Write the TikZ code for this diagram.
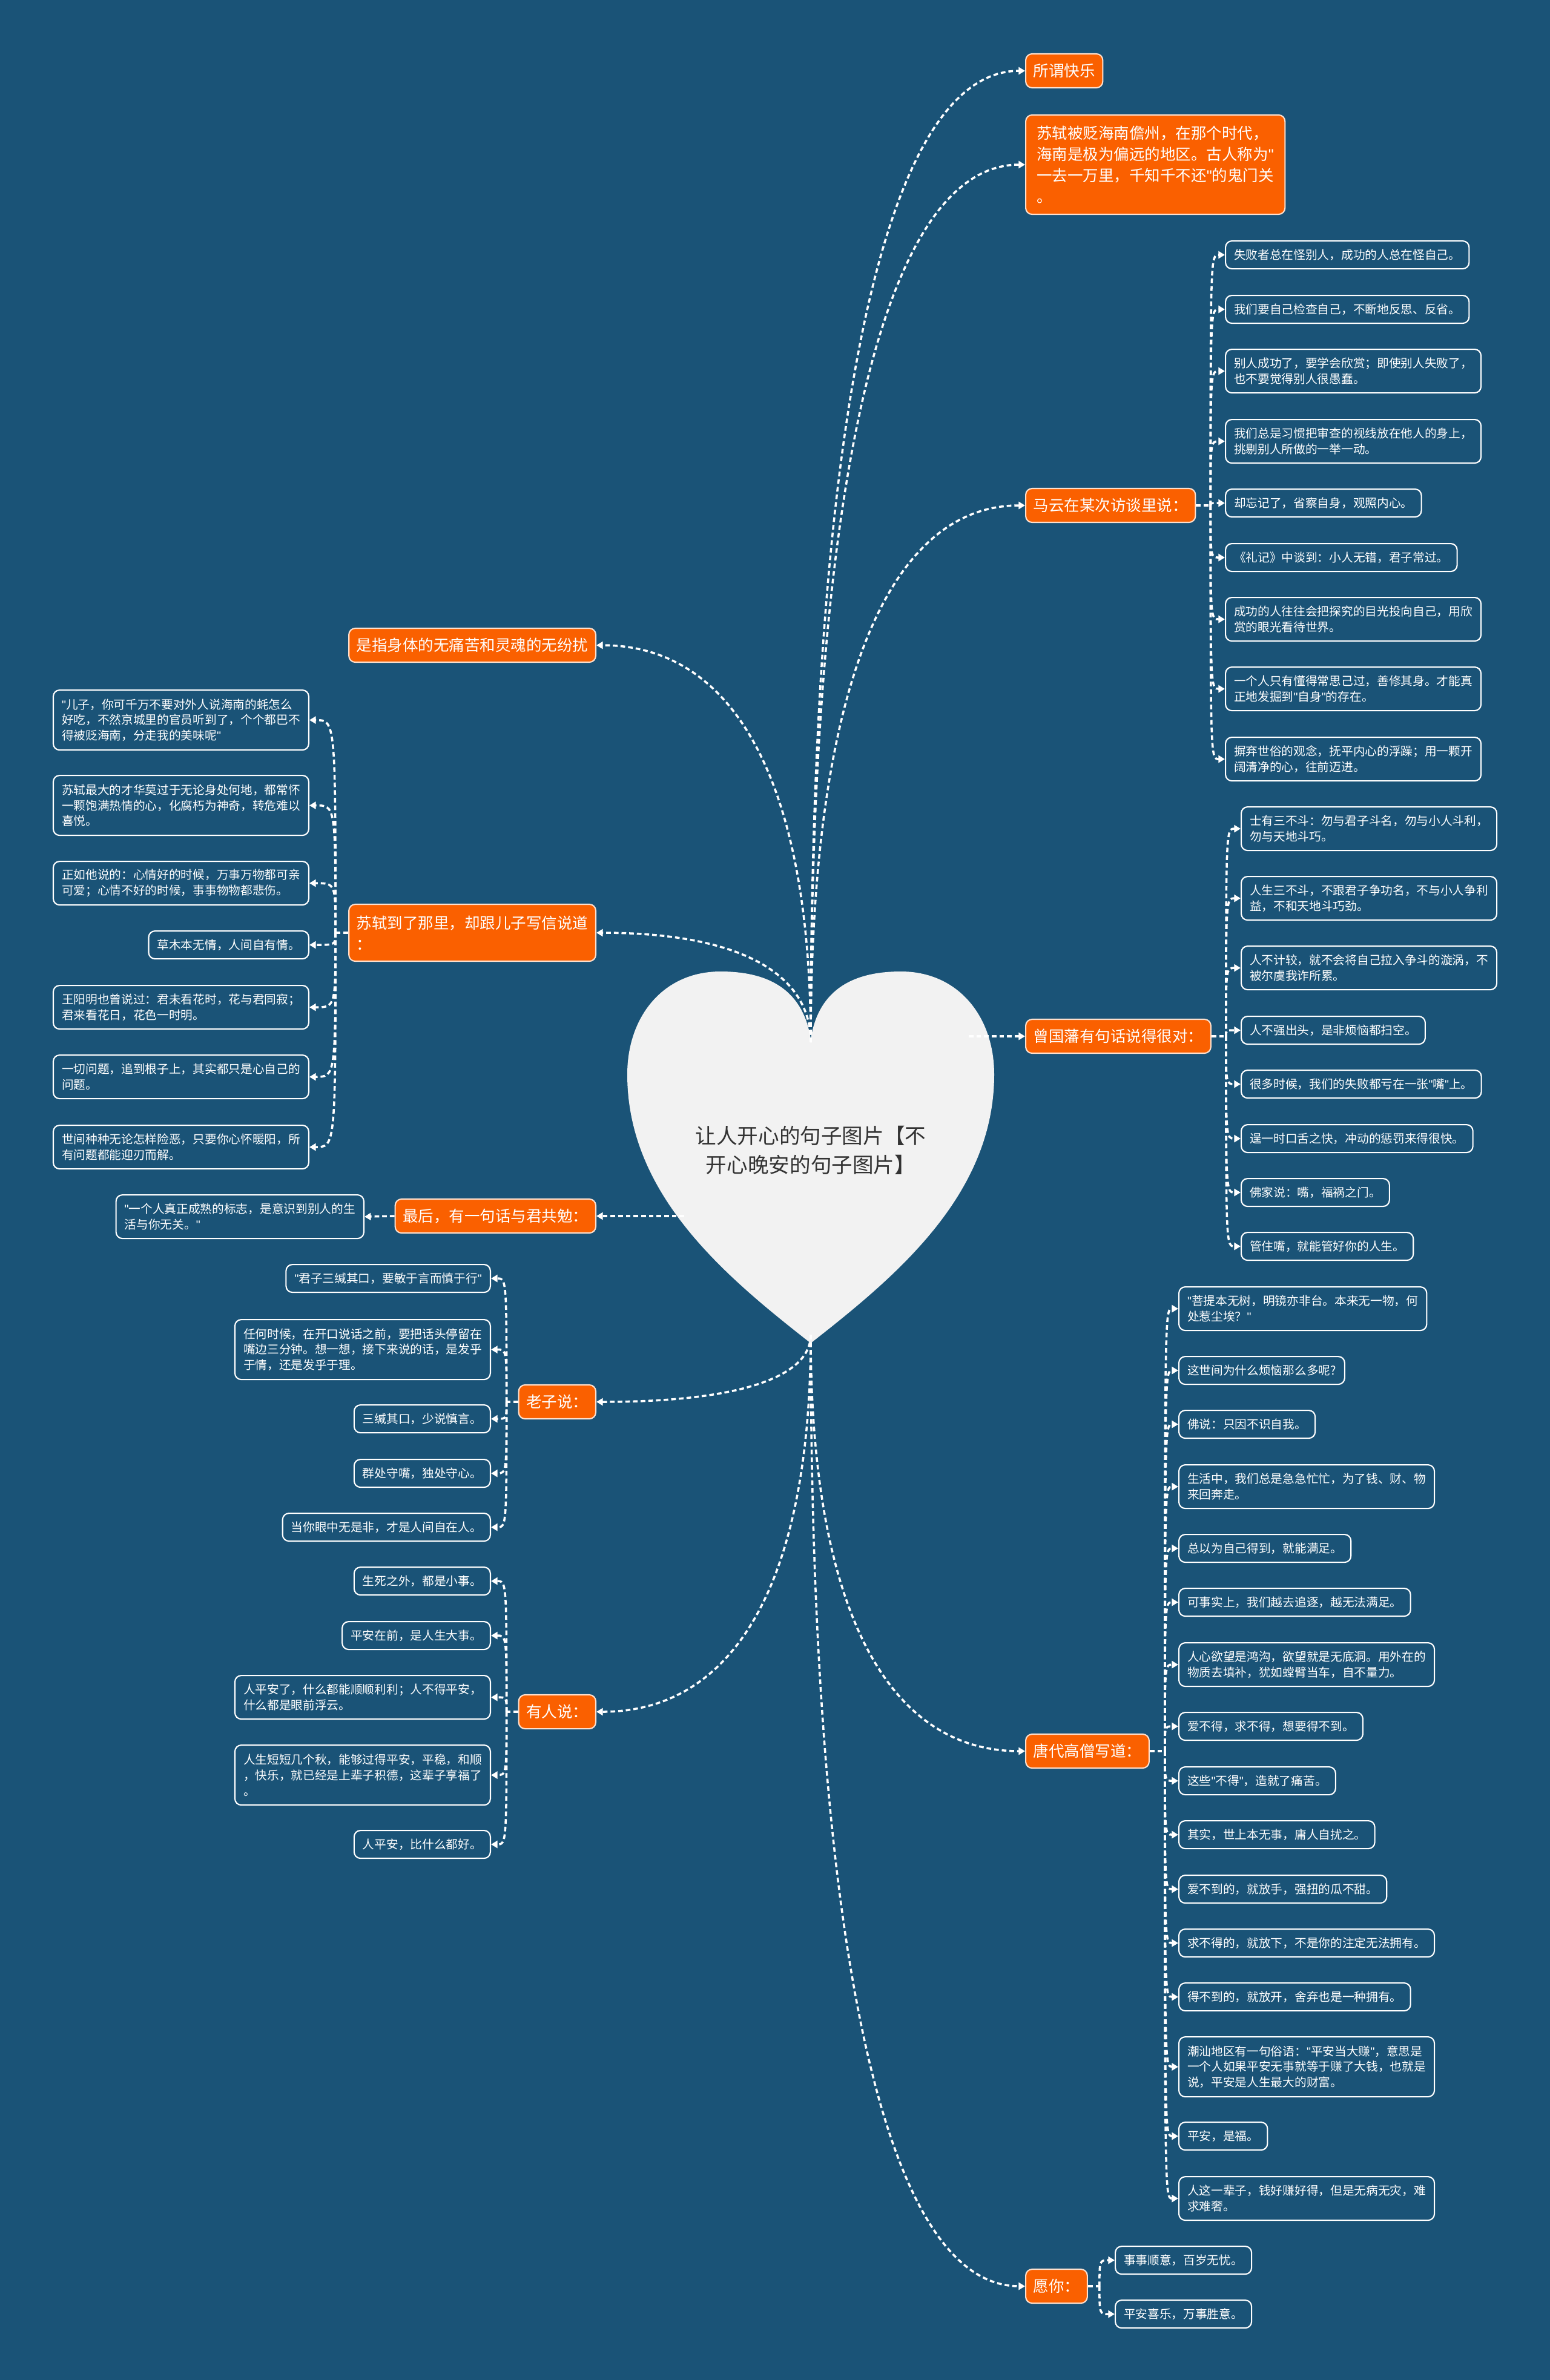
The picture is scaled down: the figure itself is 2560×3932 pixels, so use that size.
\documentclass[tikz,border=0pt]{standalone}
\usepackage{fontspec}
\setmainfont{Noto Sans CJK SC}
\newfontfamily\quotefont{Liberation Sans}
\usetikzlibrary{arrows.meta}
\definecolor{mapbg}{RGB}{26,83,119}
\definecolor{maporange}{RGB}{250,96,0}
\definecolor{heartgray}{RGB}{242,242,242}
\definecolor{titlegray}{RGB}{51,51,51}
\newcommand\leaffont{\fontsize{5.6pt}{7.3pt}\selectfont}
\newcommand\branchfont{\fontsize{7.25pt}{9.9pt}\selectfont}
\newcommand\heartfont{\fontsize{9.85pt}{13.6pt}\selectfont}
\newcommand\dq{{\quotefont"}}

\begin{document}
\begin{tikzpicture}[x=0.01cm, y=-0.01cm, >={Triangle[length=3pt,width=3.4pt]},
  branch/.style={draw=white!80!maporange, line width=0.6pt, rounded corners=3pt, fill=maporange,
    text=white, font=\branchfont, align=left, inner xsep=3.6pt, minimum height=0.56cm},
  leaf/.style={draw=white, line width=0.6pt, rounded corners=3pt, fill=mapbg,
    text=white, font=\leaffont, align=left, inner xsep=4pt, inner ysep=2pt, minimum height=0.46cm},
  twoline/.style={minimum height=0.72cm},
  threeline/.style={minimum height=0.99cm},
  link/.style={draw=white, line width=1pt, dash pattern=on 2.2pt off 1.4pt, ->},
  stub/.style={draw=white, line width=1pt, dash pattern=on 2.2pt off 1.4pt}]
  \useasboundingbox (0,0) rectangle (2560,3932);
  \fill[mapbg] (0,0) rectangle (2560,3932);

  % heart
  \fill[heartgray] (1339,1717) .. controls (1325,1625) and (1255,1605) .. (1190,1605)
    .. controls (1095,1605) and (1036,1680) .. (1036,1775)
    .. controls (1036,1975) and (1200,2110) .. (1339,2219)
    .. controls (1478,2110) and (1642,1975) .. (1642,1775)
    .. controls (1642,1680) and (1583,1605) .. (1488,1605)
    .. controls (1423,1605) and (1353,1625) .. (1339,1717) -- cycle;
  \node[font=\heartfont, text=titlegray, align=center] (title) at (1339,1900) {让人开心的句子图片【不\\开心晚安的句子图片】};
  \coordinate (htop) at (1339,1722);
  \coordinate (hbot) at (1339,2205);
  \coordinate (hright) at (1600,1712);
  \coordinate (hleft) at (1130,2009);

  % right branches
  \node[branch, anchor=west] (kuaile) at (1693,117) {所谓快乐};
  \node[branch, anchor=west, minimum width=4.28cm, minimum height=1.64cm] (hainan) at (1693,272) {苏轼被贬海南儋州，在那个时代，\\海南是极为偏远的地区。古人称为\dq{}\\一去一万里，千知千不还\dq{}的鬼门关\\。};
  \node[branch, anchor=west] (mayun) at (1693,835) {马云在某次访谈里说：};
  \node[branch, anchor=west] (zeng) at (1693,1712) {曾国藩有句话说得很对：};
  \node[branch, anchor=west] (tang) at (1693,2893) {唐代高僧写道：};
  \node[branch, anchor=west] (yuanni) at (1693,3777) {愿你：};

  % left branches
  \node[branch, anchor=east] (shenti) at (985,1066) {是指身体的无痛苦和灵魂的无纷扰};
  \node[branch, anchor=east, minimum height=0.94cm] (xiexin) at (985,1541) {苏轼到了那里，却跟儿子写信说道\\：};
  \node[branch, anchor=east] (zuihou) at (985,2009) {最后，有一句话与君共勉：};
  \node[branch, anchor=east] (laozi) at (985,2316) {老子说：};
  \node[branch, anchor=east] (youren) at (985,2828) {有人说：};

  % 马云
  \node[leaf, anchor=north west] (my1) at (2023,397) {失败者总在怪别人，成功的人总在怪自己。};
  \node[leaf, anchor=north west] (my2) at (2023,487) {我们要自己检查自己，不断地反思、反省。};
  \node[leaf, twoline, anchor=north west] (my3) at (2023,576) {别人成功了，要学会欣赏；即使别人失败了，\\也不要觉得别人很愚蠢。};
  \node[leaf, twoline, anchor=north west] (my4) at (2023,692) {我们总是习惯把审查的视线放在他人的身上，\\挑剔别人所做的一举一动。};
  \node[leaf, anchor=north west] (my5) at (2023,807) {却忘记了，省察自身，观照内心。};
  \node[leaf, anchor=north west] (my6) at (2023,897) {《礼记》中谈到：小人无错，君子常过。};
  \node[leaf, twoline, anchor=north west] (my7) at (2023,986) {成功的人往往会把探究的目光投向自己，用欣\\赏的眼光看待世界。};
  \node[leaf, twoline, anchor=north west] (my8) at (2023,1101) {一个人只有懂得常思己过，善修其身。才能真\\正地发掘到\dq{}自身\dq{}的存在。};
  \node[leaf, twoline, anchor=north west] (my9) at (2023,1217) {摒弃世俗的观念，抚平内心的浮躁；用一颗开\\阔清净的心，往前迈进。};

  % 曾国藩
  \node[leaf, twoline, anchor=north west] (zg1) at (2049,1332) {士有三不斗：勿与君子斗名，勿与小人斗利，\\勿与天地斗巧。};
  \node[leaf, twoline, anchor=north west] (zg2) at (2049,1447) {人生三不斗，不跟君子争功名，不与小人争利\\益，不和天地斗巧劲。};
  \node[leaf, twoline, anchor=north west] (zg3) at (2049,1562) {人不计较，就不会将自己拉入争斗的漩涡，不\\被尔虞我诈所累。};
  \node[leaf, anchor=north west] (zg4) at (2049,1678) {人不强出头，是非烦恼都扫空。};
  \node[leaf, anchor=north west] (zg5) at (2049,1767) {很多时候，我们的失败都亏在一张\dq{}嘴\dq{}上。};
  \node[leaf, anchor=north west] (zg6) at (2049,1857) {逞一时口舌之快，冲动的惩罚来得很快。};
  \node[leaf, anchor=north west] (zg7) at (2049,1946) {佛家说：嘴，福祸之门。};
  \node[leaf, anchor=north west] (zg8) at (2049,2035) {管住嘴，就能管好你的人生。};

  % 唐代高僧
  \node[leaf, twoline, anchor=north west] (tg1) at (1946,2125) {\dq{}菩提本无树，明镜亦非台。本来无一物，何\\处惹尘埃？\dq{}};
  \node[leaf, anchor=north west] (tg2) at (1946,2240) {这世间为什么烦恼那么多呢?};
  \node[leaf, anchor=north west] (tg3) at (1946,2329) {佛说：只因不识自我。};
  \node[leaf, twoline, anchor=north west] (tg4) at (1946,2419) {生活中，我们总是急急忙忙，为了钱、财、物\\来回奔走。};
  \node[leaf, anchor=north west] (tg5) at (1946,2534) {总以为自己得到，就能满足。};
  \node[leaf, anchor=north west] (tg6) at (1946,2623) {可事实上，我们越去追逐，越无法满足。};
  \node[leaf, twoline, anchor=north west] (tg7) at (1946,2713) {人心欲望是鸿沟，欲望就是无底洞。用外在的\\物质去填补，犹如螳臂当车，自不量力。};
  \node[leaf, anchor=north west] (tg8) at (1946,2828) {爱不得，求不得，想要得不到。};
  \node[leaf, anchor=north west] (tg9) at (1946,2918) {这些\dq{}不得\dq{}，造就了痛苦。};
  \node[leaf, anchor=north west] (tg10) at (1946,3007) {其实，世上本无事，庸人自扰之。};
  \node[leaf, anchor=north west] (tg11) at (1946,3097) {爱不到的，就放手，强扭的瓜不甜。};
  \node[leaf, anchor=north west] (tg12) at (1946,3186) {求不得的，就放下，不是你的注定无法拥有。};
  \node[leaf, anchor=north west] (tg13) at (1946,3275) {得不到的，就放开，舍弃也是一种拥有。};
  \node[leaf, threeline, anchor=north west] (tg14) at (1946,3364) {潮汕地区有一句俗语：\dq{}平安当大赚\dq{}，意思是\\一个人如果平安无事就等于赚了大钱，也就是\\说，平安是人生最大的财富。};
  \node[leaf, anchor=north west] (tg15) at (1946,3505) {平安，是福。};
  \node[leaf, twoline, anchor=north west] (tg16) at (1946,3595) {人这一辈子，钱好赚好得，但是无病无灾，难\\求难奢。};

  % 愿你
  \node[leaf, anchor=north west] (yn1) at (1841,3710) {事事顺意，百岁无忧。};
  \node[leaf, anchor=north west] (yn2) at (1841,3799) {平安喜乐，万事胜意。};

  % 苏轼写信
  \node[leaf, threeline, anchor=north east] (ss1) at (511,1139) {\dq{}儿子，你可千万不要对外人说海南的蚝怎么\\好吃，不然京城里的官员听到了，个个都巴不\\得被贬海南，分走我的美味呢\dq{}};
  \node[leaf, threeline, anchor=north east] (ss2) at (511,1280) {苏轼最大的才华莫过于无论身处何地，都常怀\\一颗饱满热情的心，化腐朽为神奇，转危难以\\喜悦。};
  \node[leaf, twoline, anchor=north east] (ss3) at (511,1422) {正如他说的：心情好的时候，万事万物都可亲\\可爱；心情不好的时候，事事物物都悲伤。};
  \node[leaf, anchor=north east] (ss4) at (511,1537) {草木本无情，人间自有情。};
  \node[leaf, twoline, anchor=north east] (ss5) at (511,1627) {王阳明也曾说过：君未看花时，花与君同寂；\\君来看花日，花色一时明。};
  \node[leaf, twoline, anchor=north east] (ss6) at (511,1742) {一切问题，追到根子上，其实都只是心自己的\\问题。};
  \node[leaf, twoline, anchor=north east] (ss7) at (511,1858) {世间种种无论怎样险恶，只要你心怀暖阳，所\\有问题都能迎刃而解。};
  \node[leaf, twoline, anchor=north east] (zh1) at (602,1973) {\dq{}一个人真正成熟的标志，是意识到别人的生\\活与你无关。\dq{}};

  % 老子说
  \node[leaf, anchor=north east] (lz1) at (811,2088) {\dq{}君子三缄其口，要敏于言而慎于行\dq{}};
  \node[leaf, threeline, anchor=north east] (lz2) at (811,2179) {任何时候，在开口说话之前，要把话头停留在\\嘴边三分钟。想一想，接下来说的话，是发乎\\于情，还是发乎于理。};
  \node[leaf, anchor=north east] (lz3) at (811,2320) {三缄其口，少说慎言。};
  \node[leaf, anchor=north east] (lz4) at (811,2410) {群处守嘴，独处守心。};
  \node[leaf, anchor=north east] (lz5) at (811,2499) {当你眼中无是非，才是人间自在人。};

  % 有人说
  \node[leaf, anchor=north east] (yr1) at (811,2588) {生死之外，都是小事。};
  \node[leaf, anchor=north east] (yr2) at (811,2678) {平安在前，是人生大事。};
  \node[leaf, twoline, anchor=north east] (yr3) at (811,2767) {人平安了，什么都能顺顺利利；人不得平安，\\什么都是眼前浮云。};
  \node[leaf, threeline, anchor=north east] (yr4) at (811,2882) {人生短短几个秋，能够过得平安，平稳，和顺\\，快乐，就已经是上辈子积德，这辈子享福了\\。};
  \node[leaf, anchor=north east] (yr5) at (811,3023) {人平安，比什么都好。};

  % heart to branches
  \draw[link] (htop) .. controls (1339,680) and (1463,117) .. (kuaile.west);
  \draw[link] (htop) .. controls (1339,781) and (1463,272) .. (hainan.west);
  \draw[link] (htop) .. controls (1339,1147) and (1463,835) .. (mayun.west);
  \draw[link] (hright) -- (zeng.west);
  \draw[link] (hbot) .. controls (1339,2652) and (1463,2893) .. (tang.west);
  \draw[link] (hbot) .. controls (1339,3227) and (1463,3777) .. (yuanni.west);
  \draw[link] (htop) .. controls (1339,1297) and (1215,1066) .. (shenti.east);
  \draw[link] (htop) .. controls (1339,1605) and (1215,1541) .. (xiexin.east);
  \draw[link] (hleft) -- (zuihou.east);
  \draw[link] (hbot) .. controls (1339,2277) and (1215,2316) .. (laozi.east);
  \draw[link] (hbot) .. controls (1339,2610) and (1215,2828) .. (youren.east);

  % branches to leaves
  \path (mayun.east) ++(24,0) coordinate (myhub);
  \path (zeng.east) ++(24,0) coordinate (zghub);
  \path (tang.east) ++(25,0) coordinate (tghub);
  \path (yuanni.east) ++(19,0) coordinate (ynhub);
  \path (xiexin.west) ++(-21,0) coordinate (sshub);
  \path (laozi.west) ++(-19,0) coordinate (lzhub);
  \path (youren.west) ++(-19,0) coordinate (yrhub);
  \draw[stub] (mayun.east) -- (myhub); \draw[stub] (zeng.east) -- (zghub);
  \draw[stub] (tang.east) -- (tghub); \draw[stub] (yuanni.east) -- (ynhub);
  \draw[stub] (xiexin.west) -- (sshub); \draw[stub] (laozi.west) -- (lzhub);
  \draw[stub] (youren.west) -- (yrhub);
  \foreach \i in {1,...,9}
    \draw[link] (myhub) .. controls (myhub |- my\i.west) .. (my\i.west);
  \foreach \i in {1,...,8}
    \draw[link] (zghub) .. controls (zghub |- zg\i.west) .. (zg\i.west);
  \foreach \i in {1,...,16}
    \draw[link] (tghub) .. controls (tghub |- tg\i.west) .. (tg\i.west);
  \foreach \i in {1,2}
    \draw[link] (ynhub) .. controls (ynhub |- yn\i.west) .. (yn\i.west);
  \foreach \i in {1,...,7}
    \draw[link] (sshub) .. controls (sshub |- ss\i.east) .. (ss\i.east);
  \foreach \i in {1,...,5}
    \draw[link] (lzhub) .. controls (lzhub |- lz\i.east) .. (lz\i.east);
  \foreach \i in {1,...,5}
    \draw[link] (yrhub) .. controls (yrhub |- yr\i.east) .. (yr\i.east);
  \draw[link] (zuihou.west) -- (zh1.east);
\end{tikzpicture}
\end{document}
